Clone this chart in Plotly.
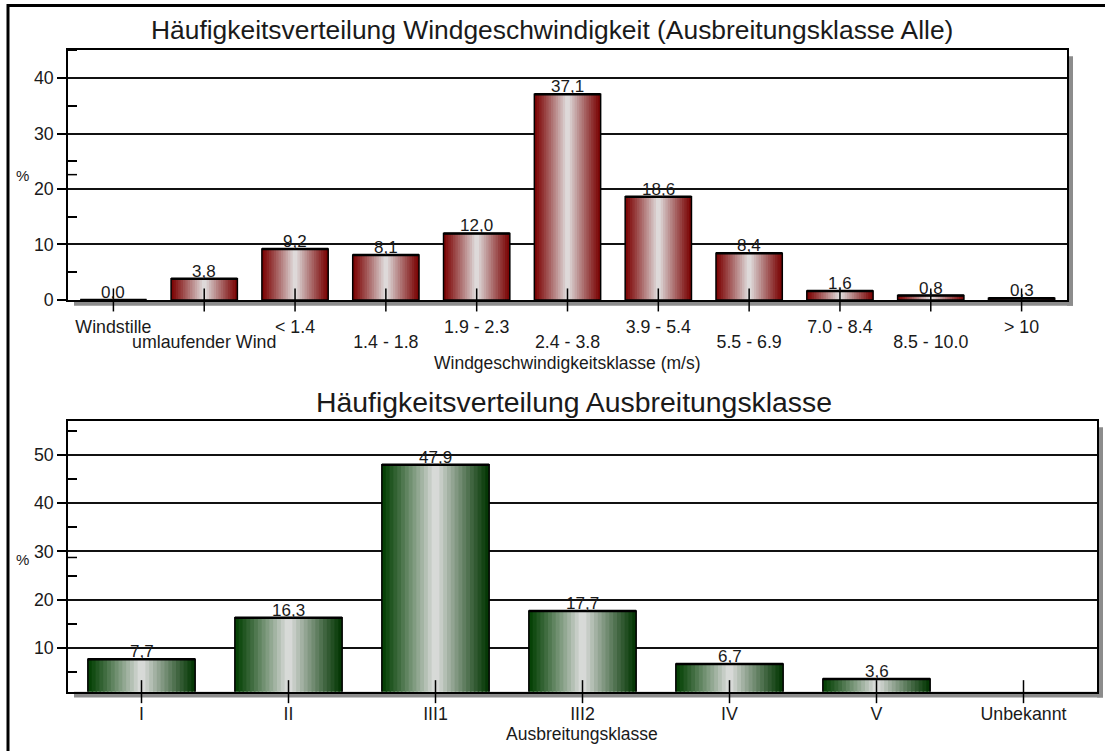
import plotly.graph_objects as go

W, H = 1105, 751

# ---------------- data ----------------
wind_classes = ["Windstille", "umlaufender Wind", "< 1.4", "1.4 - 1.8", "1.9 - 2.3",
                "2.4 - 3.8", "3.9 - 5.4", "5.5 - 6.9", "7.0 - 8.4", "8.5 - 10.0", "> 10"]
wind_pct = [0.0, 3.8, 9.2, 8.1, 12.0, 37.1, 18.6, 8.4, 1.6, 0.8, 0.3]

stab_classes = ["I", "II", "III1", "III2", "IV", "V", "Unbekannt"]
stab_pct = [7.7, 16.3, 47.9, 17.7, 6.7, 3.6, None]

top_title = "Häufigkeitsverteilung Windgeschwindigkeit (Ausbreitungsklasse Alle)"
bottom_title = "Häufigkeitsverteilung Ausbreitungsklasse"
top_xtitle = "Windgeschwindigkeitsklasse (m/s)"
bottom_xtitle = "Ausbreitungsklasse"
y_unit = "%"

# ---------------- geometry / style ----------------
FONT = "Liberation Sans, Arial, sans-serif"
TXT = "#1a1a1a"
FS = 17.8
VFS = 17


def px(x):
    return x / W


def py(y):
    return 1 - y / H


TOP_X = (68, 1067)
TOP_Y = (51, 304)
BOT_X = (68, 1097)
BOT_Y = (427, 701)
TOP_RANGE = [0, 45]
BOT_RANGE = [1.0, 56.9]
BW = 0.73
NSTRIP = 28
LINE_SYM = 1.4  # plotly line-ew / line-ns symbols are 1.4 * size long


def mix(c1, c2, t):
    return "rgb(%d,%d,%d)" % tuple(round(a + (b - a) * t) for a, b in zip(c1, c2))


def gradient_bars(xs, ys, xa, ya, left, right, light):
    traces = []
    sw = BW / NSTRIP
    for i in range(NSTRIP):
        p = (i + 0.5) / NSTRIP
        t = 1 - abs(2 * p - 1)
        col = mix(left if p < 0.5 else right, light, t ** 1.1)
        w = sw * 1.4 if i < NSTRIP - 1 else sw
        traces.append(go.Bar(
            x=xs, y=ys, width=w, offset=-BW / 2 + i * sw,
            marker=dict(color=col, line=dict(width=0)),
            xaxis=xa, yaxis=ya, hoverinfo="skip", showlegend=False))
    traces.append(go.Bar(
        x=xs, y=ys, width=BW, offset=-BW / 2,
        marker=dict(color="rgba(0,0,0,0)", line=dict(color="black", width=1.5)),
        xaxis=xa, yaxis=ya, hoverinfo="skip", showlegend=False))
    return traces


def tick_marks(xv, yv, xa, ya):
    return go.Scatter(
        x=xv, y=yv, mode="markers", xaxis=xa, yaxis=ya,
        marker=dict(symbol="line-ns", size=23 / LINE_SYM, line=dict(width=1.5, color="black")),
        hoverinfo="skip", showlegend=False, cliponaxis=False)


def top_edges(xv, yv, xa, ya, bar_px):
    return go.Scatter(
        x=xv, y=yv, mode="markers", xaxis=xa, yaxis=ya,
        marker=dict(symbol="line-ew", size=bar_px / LINE_SYM, line=dict(width=2.5, color="black")),
        hoverinfo="skip", showlegend=False, cliponaxis=False)


fig = go.Figure()

# ---- top chart ----
xw = list(range(len(wind_classes)))
for tr in gradient_bars(xw, wind_pct, "x", "y", (122, 0, 0), (120, 0, 0), (226, 226, 226)):
    fig.add_trace(tr)
top_bar_px = BW * (TOP_X[1] - TOP_X[0]) / len(wind_classes)
fig.add_trace(top_edges(xw, wind_pct, "x", "y", top_bar_px))
even = [i for i in xw if i % 2 == 0]
odd = [i for i in xw if i % 2 == 1]
fig.add_trace(tick_marks(even, [TOP_RANGE[0]] * len(even), "x", "y"))
fig.add_trace(tick_marks(odd, [TOP_RANGE[0]] * len(odd), "x3", "y"))

# ---- bottom chart ----
xs = list(range(len(stab_classes)))
for tr in gradient_bars(xs, stab_pct, "x2", "y2", (0, 62, 0), (0, 52, 0), (224, 224, 224)):
    fig.add_trace(tr)
bot_bar_px = BW * (BOT_X[1] - BOT_X[0]) / len(stab_classes)
fig.add_trace(top_edges(xs, stab_pct, "x2", "y2", bot_bar_px))
fig.add_trace(tick_marks(xs, [BOT_RANGE[0]] * len(xs), "x2", "y2"))

# ---------------- annotations ----------------
ann = []
for i, v in zip(xw, wind_pct):
    if v is None:
        continue
    ann.append(dict(x=i, y=v, xref="x", yref="y", text=f"{v:.1f}".replace(".", ","),
                    showarrow=False, yanchor="bottom", yshift=-4,
                    font=dict(size=VFS, color=TXT, family=FONT)))
for i, v in zip(xs, stab_pct):
    if v is None:
        continue
    ann.append(dict(x=i, y=v, xref="x2", yref="y2", text=f"{v:.1f}".replace(".", ","),
                    showarrow=False, yanchor="bottom", yshift=-4,
                    font=dict(size=VFS, color=TXT, family=FONT)))
ann += [
    dict(x=px(552), y=py(30), xref="paper", yref="paper", text=top_title, showarrow=False,
         xanchor="center", yanchor="middle", font=dict(size=26.4, color=TXT, family=FONT)),
    dict(x=px(574), y=py(407), xref="paper", yref="paper", text=bottom_title, showarrow=False,
         xanchor="center", yanchor="middle", font=dict(size=28.4, color=TXT, family=FONT)),
    dict(x=px(567), y=py(368), xref="paper", yref="paper", text=top_xtitle, showarrow=False,
         xanchor="center", yanchor="middle", borderpad=0,
         font=dict(size=17.5, color=TXT, family=FONT)),
    dict(x=px(582), y=py(744), xref="paper", yref="paper", text=bottom_xtitle, showarrow=False,
         xanchor="center", yanchor="middle", borderpad=0,
         font=dict(size=17.5, color=TXT, family=FONT)),
    dict(x=px(22), y=py(178), xref="paper", yref="paper", text=y_unit, showarrow=False,
         xanchor="center", yanchor="middle", font=dict(size=15, color=TXT, family=FONT)),
    dict(x=px(22), y=py(567), xref="paper", yref="paper", text=y_unit, showarrow=False,
         xanchor="center", yanchor="middle", font=dict(size=15, color=TXT, family=FONT)),
]

# ---------------- shapes ----------------
SH = "#8c8c8c"
shapes = [
    # shadows
    dict(type="rect", xref="paper", yref="paper", x0=px(74), x1=px(TOP_X[1] + 6),
         y0=py(TOP_Y[1] + 6), y1=py(TOP_Y[1]), fillcolor=SH, line=dict(width=0), layer="below"),
    dict(type="rect", xref="paper", yref="paper", x0=px(TOP_X[1]), x1=px(TOP_X[1] + 6),
         y0=py(TOP_Y[1] + 6), y1=py(TOP_Y[0] + 6), fillcolor=SH, line=dict(width=0), layer="below"),
    dict(type="rect", xref="paper", yref="paper", x0=px(74), x1=px(BOT_X[1] + 6),
         y0=py(BOT_Y[1] + 6), y1=py(BOT_Y[1]), fillcolor=SH, line=dict(width=0), layer="below"),
    dict(type="rect", xref="paper", yref="paper", x0=px(BOT_X[1]), x1=px(BOT_X[1] + 6),
         y0=py(BOT_Y[1] + 6), y1=py(BOT_Y[0] + 6), fillcolor=SH, line=dict(width=0), layer="below"),
    # outer frame (top & left visible)
    dict(type="rect", xref="paper", yref="paper", x0=px(8), x1=1.05, y0=-0.05, y1=py(5.5),
         line=dict(color="black", width=3), fillcolor="rgba(0,0,0,0)"),
    # small marks next to the % labels
    dict(type="line", xref="paper", yref="paper", x0=px(68), x1=px(77), y0=py(177), y1=py(177),
         line=dict(color="black", width=1.5)),
    dict(type="line", xref="paper", yref="paper", x0=px(68), x1=px(77), y0=py(565), y1=py(565),
         line=dict(color="black", width=1.5)),
]

axis_common = dict(showline=True, mirror=True, linecolor="black", linewidth=1.5,
                   zeroline=False, tickfont=dict(size=FS, color=TXT, family=FONT))

yaxis_common = dict(tickmode="linear", tick0=0, dtick=10, ticks="outside", ticklen=9,
                    tickcolor="black", tickwidth=1.5,
                    showgrid=True, gridcolor="#111", gridwidth=1.5,
                    minor=dict(ticks="inside", ticklen=9, tick0=5, dtick=10, tickcolor="black",
                               tickwidth=1.5, showgrid=False))

fig.update_layout(
    width=W, height=H,
    margin=dict(l=0, r=0, t=0, b=0),
    paper_bgcolor="white", plot_bgcolor="white",
    barmode="overlay", showlegend=False,
    font=dict(family=FONT, color=TXT),
    xaxis=dict(domain=[px(TOP_X[0]), px(TOP_X[1])], anchor="y", range=[-0.5, len(wind_classes) - 0.5],
               tickmode="array", tickvals=even, ticktext=[wind_classes[i] for i in even],
               ticks="", ticklabelstandoff=10, showgrid=False, **axis_common),
    xaxis3=dict(overlaying="x", anchor="y", side="bottom", range=[-0.5, len(wind_classes) - 0.5],
                tickmode="array", tickvals=odd, ticktext=[wind_classes[i] for i in odd],
                ticks="", ticklabelstandoff=29, showgrid=False, showline=False, zeroline=False,
                tickfont=dict(size=FS, color=TXT, family=FONT)),
    yaxis=dict(domain=[py(TOP_Y[1]), py(TOP_Y[0])], anchor="x", range=TOP_RANGE,
               **yaxis_common, **axis_common),
    xaxis2=dict(domain=[px(BOT_X[0]), px(BOT_X[1])], anchor="y2", range=[-0.5, len(stab_classes) - 0.5],
                tickmode="array", tickvals=xs, ticktext=stab_classes,
                ticks="", ticklabelstandoff=5, showgrid=False, **axis_common),
    yaxis2=dict(domain=[py(BOT_Y[1]), py(BOT_Y[0])], anchor="x2", range=BOT_RANGE,
                **yaxis_common, **axis_common),
    annotations=ann,
    shapes=shapes,
)

fig.write_html("out.html", post_script="document.body.style.margin='0px';",
               config={"displayModeBar": False})
